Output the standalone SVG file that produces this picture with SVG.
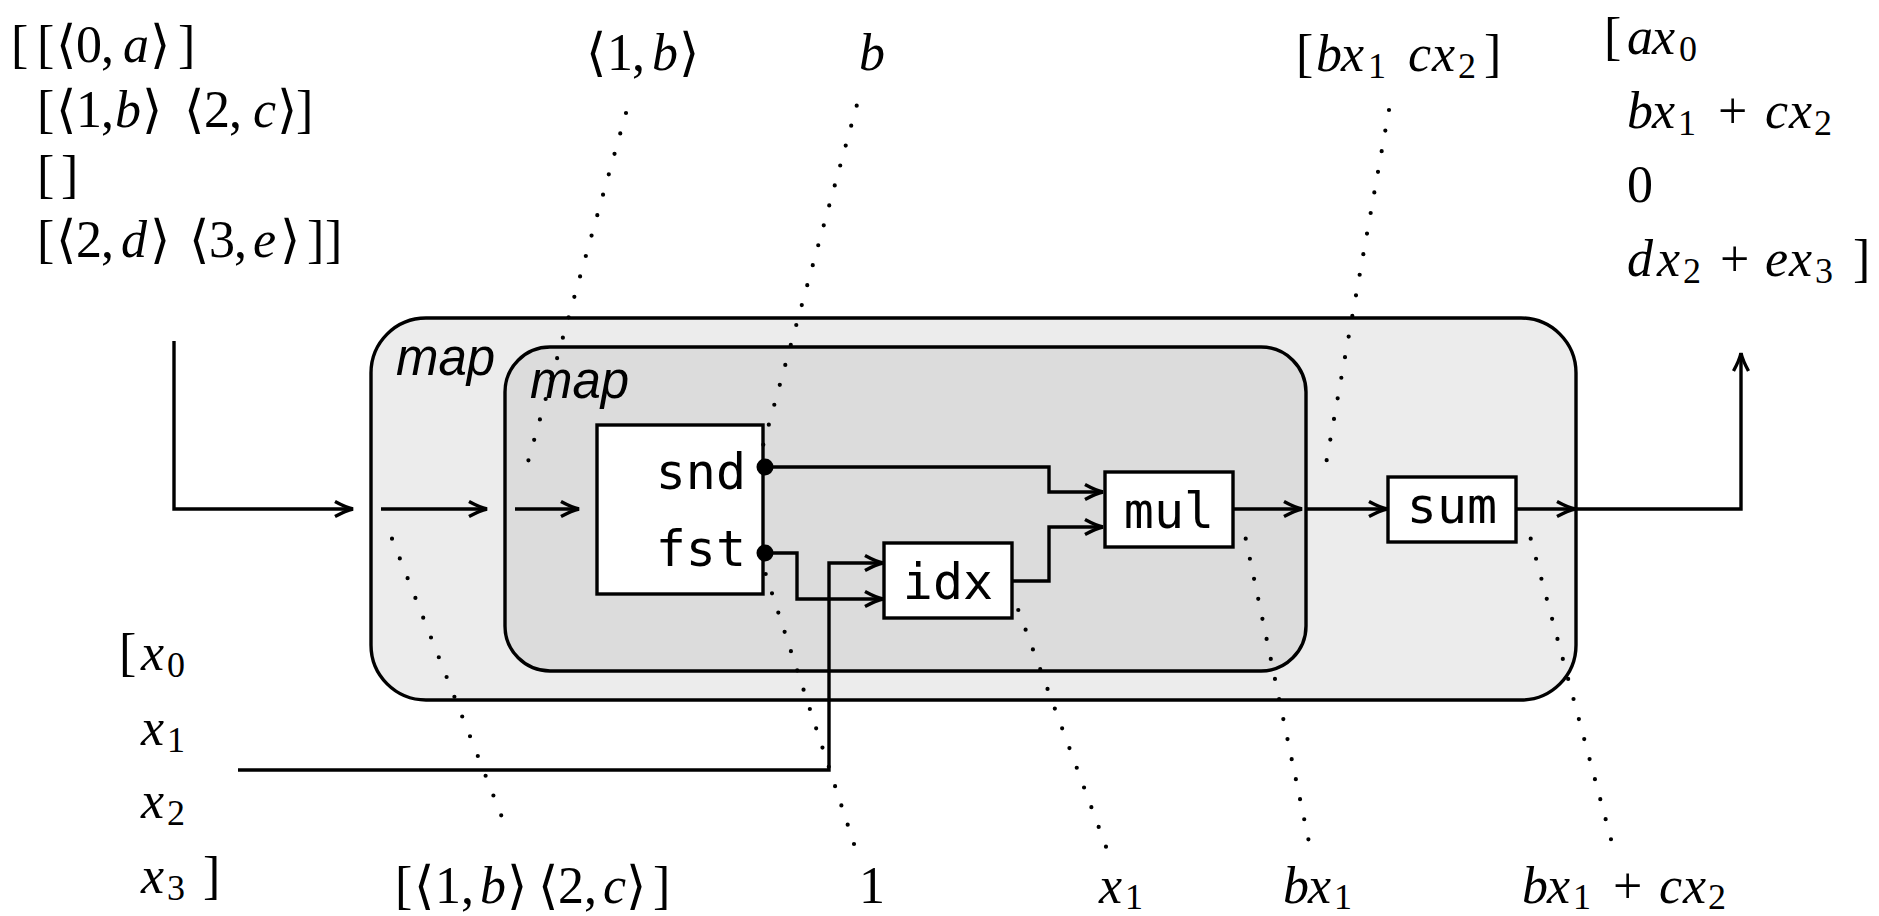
<svg xmlns="http://www.w3.org/2000/svg" width="1879" height="916" viewBox="0 0 1879 916">
  <defs>
    <style>
      .m { font-family: "Liberation Serif", "DejaVu Serif", serif; font-size: 52px; fill: #000; }
      .i { font-style: italic; }
      .s { font-size: 36px; }
      .mono { font-family: "DejaVu Sans Mono", "Liberation Mono", monospace; font-size: 50px; fill: #000; }
      .lbl { font-family: "Liberation Sans", "DejaVu Sans", sans-serif; font-style: italic; font-size: 51px; fill: #000; }
      .w { fill: none; stroke: #000; stroke-width: 3.4; stroke-linejoin: miter; }
      .box { fill: #fff; stroke: #000; stroke-width: 3.4; }
      .dots { fill: none; stroke: #000; stroke-width: 4.2; stroke-linecap: round; }
    </style>
    <marker id="tip" markerUnits="userSpaceOnUse" markerWidth="26" markerHeight="22" viewBox="-22 -11 24 22" refX="0" refY="0" orient="auto" overflow="visible">
      <path d="M-18,-7.5 Q-7,-1.5 0,0 Q-7,1.5 -18,7.5" fill="none" stroke="#000" stroke-width="3.4"/>
    </marker>
  </defs>

  <!-- outer map container -->
  <g id="map-outer">
    <rect x="371" y="318" width="1205" height="382" rx="55" ry="55" fill="#ececec" stroke="#000" stroke-width="3.4"/>
    <text class="lbl" x="396" y="375">map</text>
  </g>

  <!-- inner map container -->
  <g id="map-inner">
    <rect x="505" y="347" width="801" height="324" rx="45" ry="45" fill="#dcdcdc" stroke="#000" stroke-width="3.4"/>
    <text class="lbl" x="530" y="398">map</text>
  </g>

  <g id="node-pair">
    <rect class="box" x="597" y="425" width="166" height="169"/>
    <text class="mono" x="746" y="489" text-anchor="end">snd</text>
    <text class="mono" x="746" y="566" text-anchor="end">fst</text>
  </g>

  <g id="node-idx">
    <rect class="box" x="884" y="543" width="128" height="75"/>
    <text class="mono" x="948" y="599" text-anchor="middle">idx</text>
  </g>

  <g id="node-mul">
    <rect class="box" x="1105" y="472" width="128" height="75"/>
    <text class="mono" x="1169" y="528" text-anchor="middle">mul</text>
  </g>

  <g id="node-sum">
    <rect class="box" x="1388" y="477" width="128" height="65"/>
    <text class="mono" x="1452" y="523" text-anchor="middle">sum</text>
  </g>

  <!-- wires -->
  <g id="connectors">
    <path class="w" d="M174,341 V509 H353" marker-end="url(#tip)"/>
    <path class="w" d="M381,509 H487" marker-end="url(#tip)"/>
    <path class="w" d="M515,509 H579" marker-end="url(#tip)"/>
    <path class="w" d="M765,467 H1049 V492 H1103" marker-end="url(#tip)"/>
    <path class="w" d="M765,553 H797 V599 H883" marker-end="url(#tip)"/>
    <path class="w" d="M238,770 H829 V563 H883" marker-end="url(#tip)"/>
    <path class="w" d="M1012,581 H1049 V527 H1103" marker-end="url(#tip)"/>
    <path class="w" d="M1233,509 H1302" marker-end="url(#tip)"/>
    <path class="w" d="M1306,509 H1387" marker-end="url(#tip)"/>
    <path class="w" d="M1516,509 H1575" marker-end="url(#tip)"/>
    <path class="w" d="M1576,509 H1741 V353" marker-end="url(#tip)"/>
    <circle cx="765" cy="467" r="8.5" fill="#000"/>
    <circle cx="765" cy="553" r="8.5" fill="#000"/>
  </g>

  <!-- dotted leaders from values to wires -->
  <g id="leaders">
    <path class="dots" d="M626,113 L522.7,480.7" stroke-dasharray="0 21.22"/>
    <path class="dots" d="M856.7,105.7 L763.3,444.7" stroke-dasharray="0 20.68"/>
    <path class="dots" d="M1389,110 L1323,480.7" stroke-dasharray="0 20.92"/>
    <path class="dots" d="M392,538.7 L509,835" stroke-dasharray="0 21.24"/>
    <path class="dots" d="M765.7,574 L854,844" stroke-dasharray="0 20.29"/>
    <path class="dots" d="M1018.3,610 L1106,846.7" stroke-dasharray="0 21.03"/>
    <path class="dots" d="M1245.7,538.7 L1308.4,839.3" stroke-dasharray="0 20.47"/>
    <path class="dots" d="M1530.7,538.7 L1611,839.3" stroke-dasharray="0 20.74"/>
  </g>

  <!-- input: nested list of pairs -->
  <g id="value-rows">
    <text class="m" y="62"><tspan x="11">[</tspan><tspan x="37">[</tspan><tspan x="56">⟨</tspan><tspan x="76">0</tspan><tspan x="101">,</tspan><tspan x="123" class="i">a</tspan><tspan x="150">⟩</tspan><tspan x="178">]</tspan></text>
    <text class="m" y="127"><tspan x="37">[</tspan><tspan x="56">⟨</tspan><tspan x="76">1</tspan><tspan x="101">,</tspan><tspan x="115" class="i">b</tspan><tspan x="142">⟩</tspan><tspan x="184">⟨</tspan><tspan x="204">2</tspan><tspan x="229">,</tspan><tspan x="253" class="i">c</tspan><tspan x="277">⟩</tspan><tspan x="296">]</tspan></text>
    <text class="m" y="192"><tspan x="37">[</tspan><tspan x="61">]</tspan></text>
    <text class="m" y="257"><tspan x="37">[</tspan><tspan x="56">⟨</tspan><tspan x="76">2</tspan><tspan x="101">,</tspan><tspan x="121" class="i">d</tspan><tspan x="150">⟩</tspan><tspan x="189">⟨</tspan><tspan x="209">3</tspan><tspan x="234">,</tspan><tspan x="253" class="i">e</tspan><tspan x="280">⟩</tspan><tspan x="307">]</tspan><tspan x="325">]</tspan></text>
  </g>

  <!-- input: vector -->
  <g id="value-vector">
    <text class="m" y="670"><tspan x="119">[</tspan><tspan x="141" class="i">x</tspan><tspan x="167" class="s" dy="7">0</tspan></text>
    <text class="m" y="745"><tspan x="141" class="i">x</tspan><tspan x="167" class="s" dy="7">1</tspan></text>
    <text class="m" y="818"><tspan x="141" class="i">x</tspan><tspan x="167" class="s" dy="7">2</tspan></text>
    <text class="m" y="893"><tspan x="141" class="i">x</tspan><tspan x="167" class="s" dy="7">3</tspan><tspan x="203" dy="-7">]</tspan></text>
  </g>

  <!-- output vector -->
  <g id="value-result">
    <text class="m" y="54"><tspan x="1604">[</tspan><tspan x="1627" class="i">a</tspan><tspan x="1652" class="i">x</tspan><tspan x="1679" class="s" dy="7">0</tspan></text>
    <text class="m" y="128"><tspan x="1627" class="i">b</tspan><tspan x="1652" class="i">x</tspan><tspan x="1678" class="s" dy="7">1</tspan><tspan x="1718" dy="-7">+</tspan><tspan x="1765" class="i">c</tspan><tspan x="1789" class="i">x</tspan><tspan x="1814" class="s" dy="7">2</tspan></text>
    <text class="m" y="202"><tspan x="1627">0</tspan></text>
    <text class="m" y="276"><tspan x="1627" class="i">d</tspan><tspan x="1657" class="i">x</tspan><tspan x="1683" class="s" dy="7">2</tspan><tspan x="1720" dy="-7">+</tspan><tspan x="1765" class="i">e</tspan><tspan x="1789" class="i">x</tspan><tspan x="1815" class="s" dy="7">3</tspan><tspan x="1853" dy="-7">]</tspan></text>
  </g>

  <!-- intermediate values, top -->
  <g id="value-pair">
    <text class="m" y="70"><tspan x="586">⟨</tspan><tspan x="607">1</tspan><tspan x="632">,</tspan><tspan x="652" class="i">b</tspan><tspan x="679">⟩</tspan></text>
  </g>
  <g id="value-snd">
    <text class="m i" x="859" y="70">b</text>
  </g>
  <g id="value-products">
    <text class="m" y="71"><tspan x="1296">[</tspan><tspan x="1316" class="i">b</tspan><tspan x="1341" class="i">x</tspan><tspan x="1368" class="s" dy="7">1</tspan><tspan x="1408" dy="-7" class="i">c</tspan><tspan x="1432" class="i">x</tspan><tspan x="1458" class="s" dy="7">2</tspan><tspan x="1484" dy="-7">]</tspan></text>
  </g>

  <!-- intermediate values, bottom -->
  <g id="value-row">
    <text class="m" y="903"><tspan x="395">[</tspan><tspan x="414">⟨</tspan><tspan x="435">1</tspan><tspan x="461">,</tspan><tspan x="480" class="i">b</tspan><tspan x="507">⟩</tspan><tspan x="538">⟨</tspan><tspan x="558">2</tspan><tspan x="584">,</tspan><tspan x="603" class="i">c</tspan><tspan x="626">⟩</tspan><tspan x="653">]</tspan></text>
  </g>
  <g id="value-fst">
    <text class="m" x="872" y="903" text-anchor="middle">1</text>
  </g>
  <g id="value-idx">
    <text class="m" y="903"><tspan x="1099" class="i">x</tspan><tspan x="1125" class="s" dy="6">1</tspan></text>
  </g>
  <g id="value-mul">
    <text class="m" y="903"><tspan x="1283" class="i">b</tspan><tspan x="1308" class="i">x</tspan><tspan x="1334" class="s" dy="6">1</tspan></text>
  </g>
  <g id="value-sum">
    <text class="m" y="903"><tspan x="1522" class="i">b</tspan><tspan x="1547" class="i">x</tspan><tspan x="1573" class="s" dy="6">1</tspan><tspan x="1613" dy="-6">+</tspan><tspan x="1659" class="i">c</tspan><tspan x="1683" class="i">x</tspan><tspan x="1708" class="s" dy="6">2</tspan></text>
  </g>
</svg>
